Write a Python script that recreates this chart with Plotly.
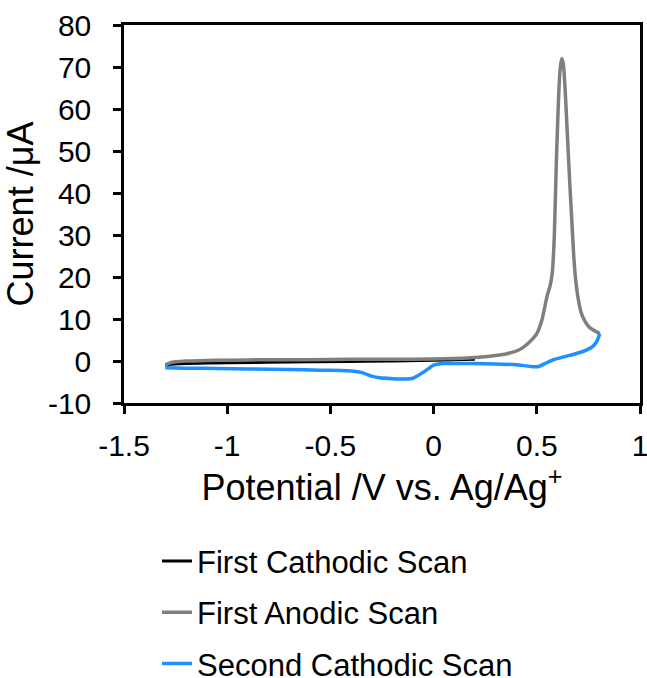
import plotly.graph_objects as go

# Cyclic voltammogram: potential (V vs. Ag/Ag+) and current (µA)
cathodic1_v = [0.20, 0.10, 0.00, -0.20, -0.40, -0.60, -0.80, -1.00, -1.10, -1.20, -1.25, -1.30]
cathodic1_i = [0.4, 0.3, 0.2, 0.0, -0.1, -0.2, -0.3, -0.4, -0.5, -0.6, -0.7, -0.9]

anodic1_v = [-1.30, -1.28, -1.25, -1.20, -1.10, -1.00, -0.80, -0.60, -0.40, -0.20, 0.00, 0.10,
             0.22, 0.30, 0.36, 0.42, 0.46, 0.50, 0.525, 0.55, 0.565, 0.575, 0.585, 0.595,
             0.605, 0.613, 0.621, 0.629, 0.639, 0.649, 0.659, 0.669, 0.679, 0.689, 0.70,
             0.715, 0.735, 0.755, 0.78, 0.805]
anodic1_i = [-0.9, -0.5, -0.2, 0.0, 0.1, 0.2, 0.3, 0.3, 0.4, 0.4, 0.5, 0.6,
             0.9, 1.3, 1.8, 2.8, 4.3, 6.5, 9.8, 15.5, 18.0, 21.0, 30.0, 48.0,
             62.0, 69.5, 72.0, 70.5, 63.0, 53.0, 43.0, 34.0, 25.0, 19.0, 15.0,
             11.5, 9.3, 8.0, 7.2, 6.5]

cathodic2_v = [0.805, 0.79, 0.77, 0.74, 0.70, 0.64, 0.58, 0.54, 0.51, 0.47, 0.40, 0.30, 0.20,
               0.10, 0.04, 0.00, -0.03, -0.07, -0.10, -0.14, -0.20, -0.26, -0.30, -0.35,
               -0.42, -0.55, -0.70, -0.90, -1.05, -1.20, -1.30]
cathodic2_i = [6.5, 4.6, 3.4, 2.6, 1.9, 1.1, 0.3, -0.6, -1.3, -1.3, -0.9, -0.7, -0.6,
               -0.6, -0.6, -1.0, -2.0, -3.3, -4.1, -4.3, -4.2, -4.0, -3.6, -2.7,
               -2.3, -2.2, -2.0, -1.9, -1.8, -1.7, -1.6]

x_ticks = [-1.5, -1, -0.5, 0, 0.5, 1]
y_ticks = [-10, 0, 10, 20, 30, 40, 50, 60, 70, 80]

FONT = "Arial, Liberation Sans, sans-serif"

fig = go.Figure()
fig.add_trace(go.Scatter(x=cathodic1_v, y=cathodic1_i, mode="lines", name="First Cathodic Scan",
                         line=dict(color="#000000", width=3, shape="spline"), legendgroup="a"))
fig.add_trace(go.Scatter(x=anodic1_v, y=anodic1_i, mode="lines", name="First Anodic Scan",
                         line=dict(color="#7f7f7f", width=3.5, shape="spline", smoothing=0.6),
                         legendgroup="b"))
fig.add_trace(go.Scatter(x=cathodic2_v, y=cathodic2_i, mode="lines", name="Second Cathodic Scan",
                         line=dict(color="#1e90ff", width=3.5, shape="spline", smoothing=0.6),
                         legendgroup="c"))

fig.update_layout(
    width=647, height=678,
    margin=dict(l=124, r=7, t=25, b=275, autoexpand=False),
    plot_bgcolor="white", paper_bgcolor="white",
    font=dict(family=FONT, size=30, color="#000000"),
    showlegend=True,
    legend=dict(x=0.064, y=0.212, xanchor="left", yanchor="top", yref="container",
                font=dict(size=31), tracegroupgap=8, bgcolor="rgba(0,0,0,0)"),
    xaxis=dict(range=[-1.5, 1], tickvals=x_ticks, ticktext=[f"{v:g}" for v in x_ticks],
               showgrid=False, zeroline=False, showline=True, linecolor="black", linewidth=2.5,
               mirror=True, ticks="outside", ticklen=8, tickwidth=2.5, tickcolor="black",
               ticklabelstandoff=6, ticklabeloverflow="allow", automargin=False,
               title=dict(text="Potential /V vs. Ag/Ag<sup>+</sup>", standoff=15)),
    yaxis=dict(range=[-10, 80], tickvals=y_ticks, ticktext=[f"{v:g}" for v in y_ticks],
               showgrid=False, zeroline=False,
               showline=True, linecolor="black", linewidth=2.5, mirror=True,
               ticks="outside", ticklen=8, tickwidth=2.5, tickcolor="black",
               ticklabelstandoff=16, ticklabeloverflow="allow", automargin=False,
               title=dict(text="Current /μA", standoff=8)),
)

fig.write_html("out.html")
